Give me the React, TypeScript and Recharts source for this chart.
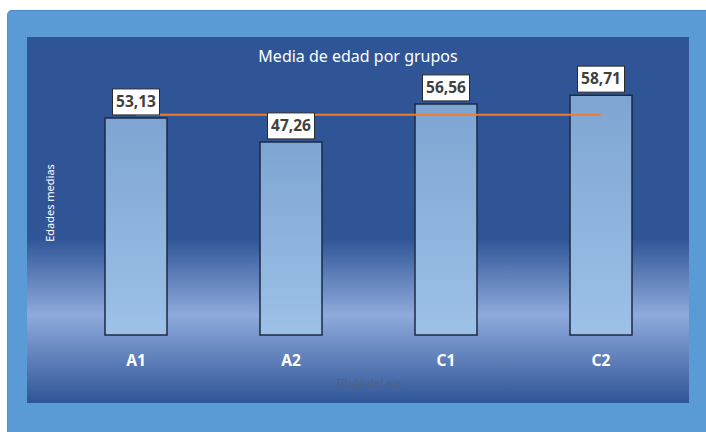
import React from 'react';
import { ComposedChart, Bar, Line, XAxis, YAxis, LabelList } from 'recharts';

const categories = ['A1', 'A2', 'C1', 'C2'];
const ages = [53.13, 47.26, 56.56, 58.71];
const meanLine = [53.92, 53.92, 53.92, 53.92];

const data = categories.map((c, i) => ({ name: c, edad: ages[i], media: meanLine[i] }));

const FONT = '"Noto Sans", "Open Sans", sans-serif';

const fmt = (v: number) => v.toFixed(2).replace('.', ',');

const ValueBox = (props: any) => {
  const { x, y, width, value } = props;
  const cx = x + width / 2;
  const w = 47;
  const h = 26;
  const bottom = y - 3;
  return (
    <g>
      <rect x={cx - w / 2} y={bottom - h} width={w} height={h} fill="#ffffff" stroke="#2b2b2b" strokeWidth={1} />
      <text x={cx} y={bottom - h / 2 + 1} textAnchor="middle" dominantBaseline="middle" fontFamily={FONT} fontWeight="bold" fontSize={15.5} fill="#404040">
        {fmt(value)}
      </text>
    </g>
  );
};

export default function App() {
  return (
    <div style={{ position: 'absolute', left: 0, top: 0, width: 706, height: 432, background: '#ffffff', overflow: 'hidden' }}>
      <div style={{ position: 'absolute', left: 7, top: 10, width: 700, height: 430, background: '#5b9bd5', borderTop: '1px solid #4a86c2', borderLeft: '1px solid #5592cc', borderTopLeftRadius: 5, boxSizing: 'border-box' }} />
      <div style={{ position: 'absolute', left: 27, top: 37, width: 662, height: 366, background: 'linear-gradient(to bottom, #2f5597 0%, #2f5597 55%, #8faadc 76%, #2f5597 100%)' }} />
      <div style={{ position: 'absolute', left: 27, top: 45, width: 662, textAlign: 'center', fontFamily: FONT, fontSize: 16, color: '#ffffff' }}>
        Media de edad por grupos
      </div>
      <div style={{ position: 'absolute', left: 50, top: 203, width: 0, height: 0 }}>
        <div style={{ position: 'absolute', left: -60, top: -8, width: 120, textAlign: 'center', transform: 'rotate(-90deg)', fontFamily: FONT, fontSize: 11, color: '#ffffff', lineHeight: '16px' }}>
          Edades medias
        </div>
      </div>
      <div style={{ position: 'absolute', left: 58, top: 375, width: 621, textAlign: 'center', fontFamily: FONT, fontSize: 11, color: '#55607a' }}>
        Título del eje
      </div>
      <div style={{ position: 'absolute', left: 0, top: 0 }}>
        <ComposedChart width={706} height={432} data={data} margin={{ top: 49, right: 27.5, bottom: 67, left: 58.5 }} barCategoryGap="30%">
          <defs>
            <linearGradient id="barFill" x1="0" y1="0" x2="0" y2="1">
              <stop offset="0%" stopColor="#7ea5d2" />
              <stop offset="100%" stopColor="#9dc1e7" />
            </linearGradient>
          </defs>
          <YAxis hide domain={[0, 70]} />
          <XAxis dataKey="name" axisLine={false} tickLine={false} tickMargin={14} height={30}
            tick={{ fill: '#ffffff', fontFamily: FONT, fontWeight: 'bold', fontSize: 15.5 }} />
          <Bar dataKey="edad" fill="url(#barFill)" stroke="#1c2a44" strokeWidth={1.5} isAnimationActive={false}>
            <LabelList dataKey="edad" content={ValueBox} />
          </Bar>
          <Line dataKey="media" stroke="#ed7d31" strokeWidth={2} dot={false} activeDot={false} isAnimationActive={false} />
        </ComposedChart>
      </div>
    </div>
  );
}
